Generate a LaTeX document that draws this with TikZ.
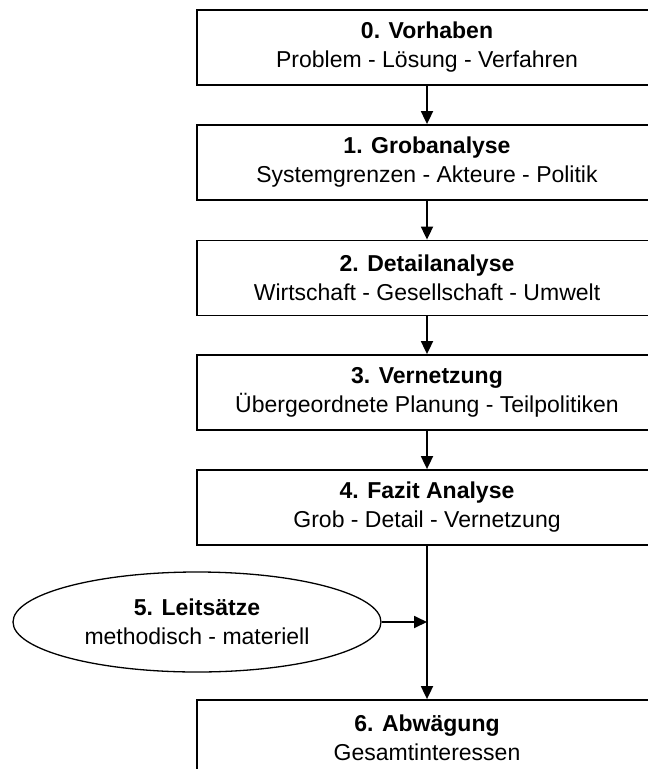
\documentclass[tikz,border=0pt]{standalone}
\usepackage{fontspec}
\setmainfont{Liberation Sans}
\usetikzlibrary{shapes.geometric,arrows.meta}

\begin{document}
\begin{tikzpicture}[x=1pt, y=-1pt,
		box/.style={rectangle, draw, line width=1.8pt, minimum width=460pt, minimum height=75pt, align=center, inner sep=0pt, font=\fontsize{23}{29}\selectfont},
		oval/.style={ellipse, draw, line width=1.3pt, minimum width=368pt, minimum height=100pt, align=center, inner sep=0pt, font=\fontsize{23}{29}\selectfont},
		pfeil/.style={-{Triangle[length=13pt, width=12pt]}, line width=1.8pt}]
		\useasboundingbox (0, 0) rectangle (648, 769);
		\clip (0, 0) rectangle (648, 769);

		% Schritte untereinander
		\node[box] (V) at (427, 47.5) {\textbf{0. Vorhaben}\\Problem - Lösung - Verfahren};
		\node[box] (G) at (427, 162.5) {\textbf{1. Grobanalyse}\\Systemgrenzen - Akteure - Politik};
		\node[box] (D) at (427, 278) {\textbf{2. Detailanalyse}\\Wirtschaft - Gesellschaft - Umwelt};
		\node[box] (N) at (427, 392.5) {\textbf{3. Vernetzung}\\Übergeordnete Planung - Teilpolitiken};
		\node[box] (F) at (427, 507.5) {\textbf{4. Fazit Analyse}\\Grob - Detail - Vernetzung};
		\node[box] (A) at (427, 737.5) {\textbf{6. Abwägung}\\Gesamtinteressen};

		% Leitsätze links daneben
		\node[oval] (L) at (197, 622) {\textbf{5. Leitsätze}\\methodisch - materiell};
		\coordinate (M) at (L.east -| F.south);

		\draw[pfeil] (V) -- (G);
		\draw[pfeil] (G) -- (D);
		\draw[pfeil] (D) -- (N);
		\draw[pfeil] (N) -- (F);
		\draw[pfeil] (F) -- (A);
		\draw[pfeil] (L) -- (M);
	\end{tikzpicture}
\end{document}
